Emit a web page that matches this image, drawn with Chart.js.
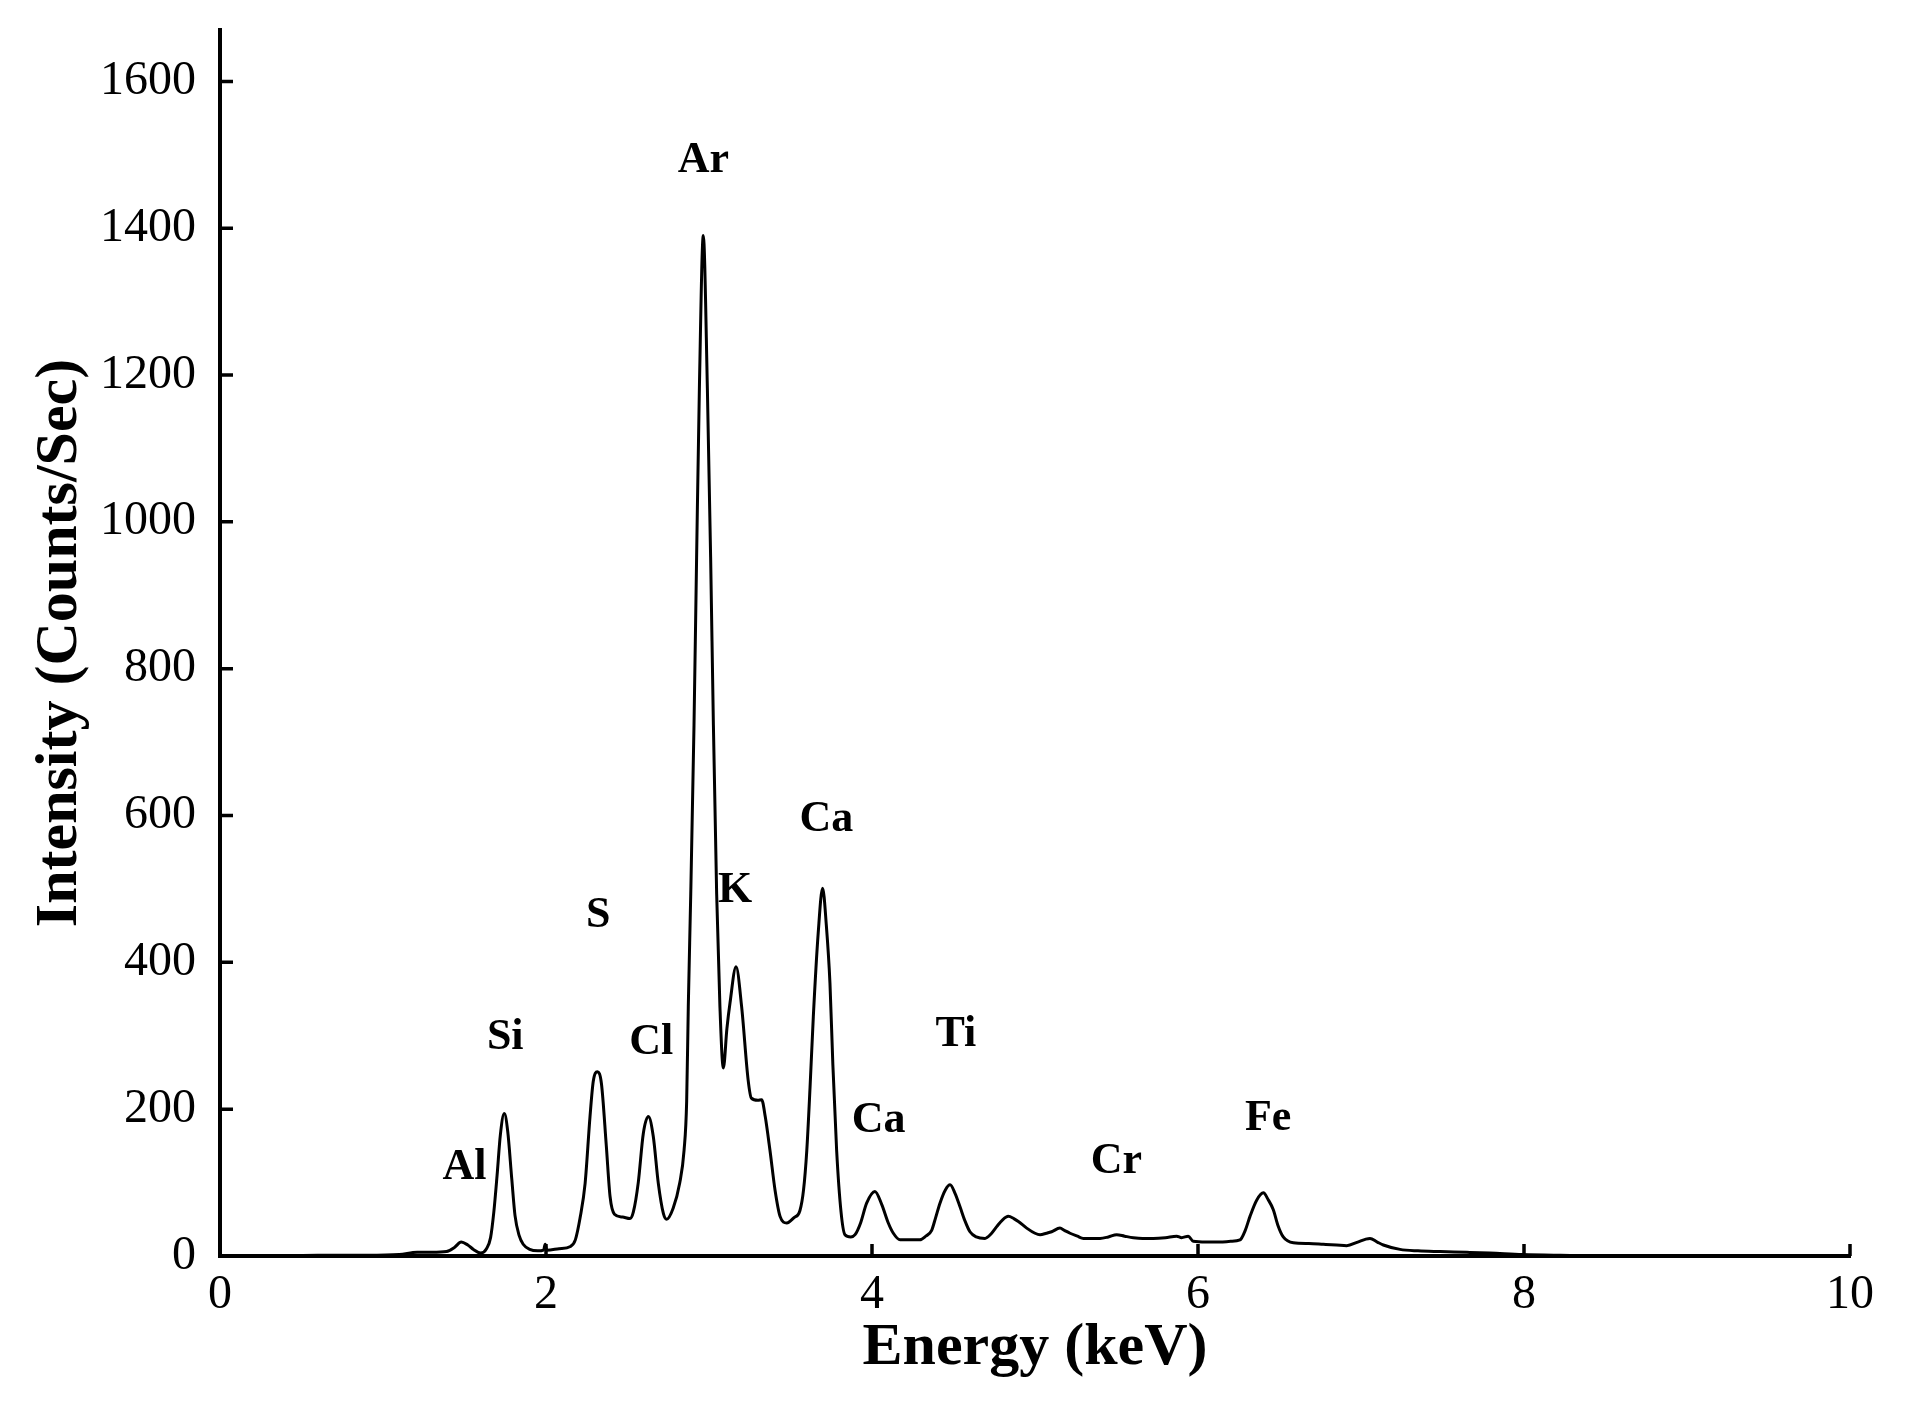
<!DOCTYPE html>
<html>
<head>
<meta charset="utf-8">
<script src="https://cdn.jsdelivr.net/npm/chart.js@4.4.1/dist/chart.umd.min.js"></script>
<style>
  html, body { margin: 0; padding: 0; background: #fff; }
  #wrap { width: 1906px; height: 1404px; }
</style>
</head>
<body>
<div id="wrap"><canvas id="edsChart" width="1906" height="1404"></canvas></div>
<script>
// ===== Spectru EDS =====
const energyKeV = [
  0.40, 0.60, 0.90, 1.10, 1.21, 1.30, 1.39, 1.44, 1.48, 1.52,
  1.555, 1.60, 1.635, 1.66, 1.68, 1.70, 1.72, 1.744, 1.765, 1.79,
  1.81, 1.835, 1.86, 1.90, 1.95, 1.985, 1.995, 2.005, 2.08, 2.15,
  2.18, 2.21, 2.24, 2.27, 2.29, 2.315, 2.34, 2.37, 2.393, 2.42,
  2.47, 2.515, 2.536, 2.566, 2.597, 2.628, 2.658, 2.689, 2.72, 2.74,
  2.78, 2.82, 2.847, 2.863, 2.873, 2.888, 2.908, 2.924, 2.941, 2.965,
  2.99, 3.01, 3.027, 3.047, 3.067, 3.088, 3.11, 3.129, 3.166, 3.20,
  3.24, 3.26, 3.30, 3.323, 3.345, 3.374, 3.405, 3.436, 3.477, 3.52,
  3.558, 3.58, 3.60, 3.62, 3.64, 3.67, 3.697, 3.72, 3.742, 3.76,
  3.783, 3.81, 3.834, 3.87, 3.896, 3.93, 3.967, 4.018, 4.06, 4.10,
  4.131, 4.172, 4.23, 4.294, 4.33, 4.366, 4.39, 4.417, 4.45, 4.479,
  4.51, 4.54, 4.57, 4.601, 4.64, 4.693, 4.73, 4.765, 4.80, 4.836,
  4.87, 4.898, 4.949, 5.00, 5.031, 5.07, 5.102, 5.153, 5.18, 5.215,
  5.26, 5.297, 5.35, 5.399, 5.45, 5.501, 5.55, 5.603, 5.66, 5.726,
  5.80, 5.869, 5.90, 5.94, 5.971, 6.05, 6.135, 6.20, 6.258, 6.29,
  6.319, 6.36, 6.401, 6.43, 6.462, 6.49, 6.523, 6.585, 6.68, 6.769,
  6.85, 6.912, 6.98, 7.03, 7.055, 7.10, 7.137, 7.239, 7.35, 7.485,
  7.65, 7.79, 7.99, 8.20, 8.60, 10.0
];
const intensity = [
  0, 1, 1, 2, 5, 5, 6, 12, 19, 15,
  9, 4, 10, 25, 60, 110, 165, 194, 170, 105,
  55, 28, 16, 9, 7, 8, 16, 8, 10, 13,
  22, 53, 99, 190, 238, 251, 235, 150, 81, 57,
  53, 51, 60, 100, 167, 190, 163, 99, 58, 50,
  65, 99, 144, 211, 340, 493, 723, 952, 1182, 1390,
  1182, 952, 723, 493, 340, 256, 310, 345, 394, 340,
  240, 215, 212, 213, 190, 144, 90, 54, 45, 52,
  62, 90, 144, 230, 326, 440, 501, 450, 372, 260,
  144, 60, 29, 26, 29, 45, 72, 88, 70, 45,
  31, 22, 22, 22, 27, 35, 52, 72, 90, 97,
  85, 67, 48, 33, 26, 24, 30, 40, 49, 54,
  51, 47, 38, 31, 29, 31, 33, 38, 35, 31,
  27, 24, 24, 24, 26, 29, 27, 25, 24, 24,
  25, 27, 25, 27, 20, 19, 19, 20, 22, 35,
  54, 76, 86, 77, 63, 42, 26, 18, 17, 16,
  15, 14, 19, 23, 24, 19, 15, 9, 7, 6,
  5, 4, 2, 1, 0, 0
];

// ===== Etichete elemente (poziție în keV / counts) =====
const peakNames = ["Al", "Si", "S", "Cl", "Ar", "K", "Ca", "Ca", "Ti", "Cr", "Fe"];
const peakLabelE = [1.50, 1.75, 2.32, 2.645, 2.965, 3.16, 3.72, 4.04, 4.515, 5.50, 6.43];
const peakLabelI = [121, 297, 463, 291, 1492, 497, 595, 185, 301, 129, 187];

// ===== Axe =====
const xTicks = [0, 2, 4, 6, 8, 10];
const yTicks = [0, 200, 400, 600, 800, 1000, 1200, 1400, 1600];
const xMax = 10;
const yMax = 1670;

const SERIF = '"Liberation Serif", "Times New Roman", Times, serif';

// etichete pe vârfuri
const peakLabels = {
  id: "peakLabels",
  afterDatasetsDraw(chart) {
    const { ctx, scales } = chart;
    ctx.save();
    ctx.fillStyle = "#000";
    ctx.font = `bold 44px ${SERIF}`;
    ctx.textAlign = "center";
    ctx.textBaseline = "middle";
    peakNames.forEach((name, i) => {
      ctx.fillText(name, scales.x.getPixelForValue(peakLabelE[i]), scales.y.getPixelForValue(peakLabelI[i]));
    });
    ctx.restore();
  }
};

// tick-uri spre interior
const innerTicks = {
  id: "innerTicks",
  afterDraw(chart) {
    const { ctx, chartArea, scales } = chart;
    ctx.save();
    ctx.strokeStyle = "#000";
    ctx.lineWidth = 3.5;
    ctx.beginPath();
    yTicks.forEach(v => {
      const py = scales.y.getPixelForValue(v);
      ctx.moveTo(chartArea.left, py);
      ctx.lineTo(chartArea.left + 13, py);
    });
    xTicks.forEach(v => {
      const px = scales.x.getPixelForValue(v);
      ctx.moveTo(px, chartArea.bottom);
      ctx.lineTo(px, chartArea.bottom - 12);
    });
    ctx.stroke();
    ctx.restore();
  }
};

const ctx = document.getElementById("edsChart").getContext("2d");
new Chart(ctx, {
  type: "line",
  data: {
    datasets: [{
      data: energyKeV.map((e, i) => ({ x: e, y: intensity[i] })),
      borderColor: "#000",
      borderWidth: 3,
      pointRadius: 0,
      fill: false,
      cubicInterpolationMode: "monotone"
    }]
  },
  options: {
    responsive: false,
    animation: false,
    devicePixelRatio: 1,
    layout: { padding: { top: 30, right: 56, left: 0, bottom: 0 } },
    plugins: { legend: { display: false }, tooltip: { enabled: false } },
    scales: {
      x: {
        type: "linear",
        min: 0,
        max: xMax,
        afterBuildTicks: s => { s.ticks = xTicks.map(v => ({ value: v })); },
        afterFit: s => { s.height = 148; s.paddingLeft = 0; s.paddingRight = 0; },
        grid: { display: false },
        border: { display: true, color: "#000", width: 4 },
        ticks: {
          color: "#000",
          padding: 7,
          maxRotation: 0,
          callback: v => String(v),
          font: { family: SERIF, size: 48, lineHeight: 1 }
        },
        title: {
          display: true,
          text: "Energy (keV)",
          color: "#000",
          padding: { top: 0, bottom: 20 },
          font: { family: SERIF, size: 60, weight: "bold", lineHeight: 1.2 }
        }
      },
      y: {
        type: "linear",
        min: 0,
        max: yMax,
        afterBuildTicks: s => { s.ticks = yTicks.map(v => ({ value: v })); },
        afterFit: s => { s.width = 220; s.paddingTop = 0; s.paddingBottom = 0; },
        grid: { display: false },
        border: { display: true, color: "#000", width: 4 },
        ticks: {
          color: "#000",
          padding: 16,
          callback: v => String(v),
          font: { family: SERIF, size: 48, lineHeight: 1 }
        },
        title: {
          display: true,
          text: "Intensity (Counts/Sec)",
          color: "#000",
          padding: { top: 24, bottom: 0 },
          font: { family: SERIF, size: 60, weight: "bold", lineHeight: 1.2 }
        }
      }
    }
  },
  plugins: [peakLabels, innerTicks]
});
</script>
</body>
</html>
